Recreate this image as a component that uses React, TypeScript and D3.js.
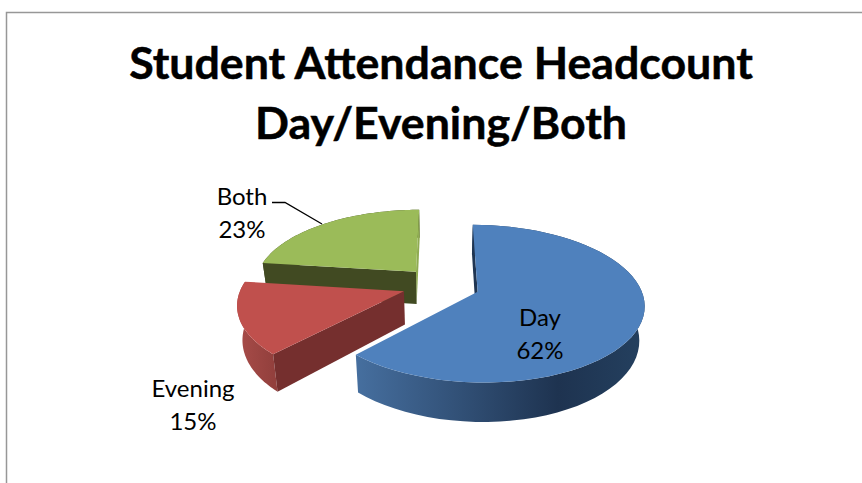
import React from "react";
import * as d3 from "d3";

const W = 862;
const H = 483;
const categories = ["Day", "Evening", "Both"];
const values = [62, 15, 23];
const labels = ["62%", "15%", "23%"];
const titleLines = ["Student Attendance Headcount", "Day/Evening/Both"];
const topColors = ["#4f81bd", "#c0504d", "#9bbb59"];
const startFaceColors = ["#1f3552", "#752f2e", "#414a22"];
const endFaceColors = [null, null, "#8fab52"];
const sideStops = [
  [["0", "#466f9f"], ["0.7", "#1e3350"], ["1", "#24405f"]],
  [["0", "#a84c49"], ["1", "#93403d"]],
  [["0", "#414a22"], ["1", "#414a22"]],
];
const labelPos = [
  { x: 540, y: 326 },
  { x: 193, y: 397 },
  { x: 242, y: 205 },
];

// projection parameters of the tilted pie
const cx = 441, cy = 285, a = 162, b = 75, k = 0.15, depth = 33, explode = 0.24, converge = 0.0008;

const project = (u: number, v: number, drop = 0) => {
  const s = 1 / (1 - k * v);
  return [cx + a * u * s * (1 - drop * converge), cy + b * v * s + drop * s] as [number, number];
};

const arcs = d3.pie<number>().sort(null).value((d) => d)(values);
const line = d3.line();

function sliceGeometry(i: number) {
  const { startAngle: t0, endAngle: t1 } = arcs[i];
  const mid = (t0 + t1) / 2;
  const ox = Math.sin(mid) * explode;
  const oy = -Math.cos(mid) * explode;
  const thetas = d3.range(0, 61).map((j) => d3.interpolateNumber(t0, t1)(j / 60));
  const rim = (drop: number) =>
    thetas.map((t) => project(ox + Math.sin(t), oy - Math.cos(t), drop));
  const apex = (drop: number) => project(ox, oy, drop);
  return { rim, apex };
}

export default function App() {
  return (
    <svg
      width={W}
      height={H}
      style={{ position: "absolute", left: 0, top: 0, display: "block", background: "#fff" }}
      fontFamily="Lato, Carlito, sans-serif"
    >
      <defs>
        {arcs.map((_, i) => {
          const g = sliceGeometry(i);
          const xs = g.rim(0).map((p) => p[0]);
          return (
            <linearGradient
              key={i}
              id={`side${i}`}
              gradientUnits="userSpaceOnUse"
              x1={d3.min(xs)}
              x2={d3.max(xs)}
              y1={0}
              y2={0}
            >
              {sideStops[i].map(([o, c]) => (
                <stop key={o} offset={o} stopColor={c} />
              ))}
            </linearGradient>
          );
        })}
      </defs>
      <path d="M6.5 483V12.5H862" fill="none" stroke="#979797" strokeWidth={1.5} />
      {titleLines.map((t, i) => (
        <text
          key={t}
          x={441}
          y={79 + i * 60}
          textAnchor="middle"
          fontSize={44.7}
          fontWeight={700}
          fill="#000"
          stroke="#000"
          strokeWidth={0.5}
        >
          {t}
        </text>
      ))}
      {[2, 1, 0].map((i) => {
        const g = sliceGeometry(i);
        const top = g.rim(0);
        const bottom = g.rim(depth);
        const outer = [...top, ...bottom.slice().reverse()];
        const faceA = [g.apex(0), top[0], bottom[0], g.apex(depth)];
        const faceB = [g.apex(0), top[top.length - 1], bottom[bottom.length - 1], g.apex(depth)];
        const whole = [g.apex(0), ...top];
        const endColor = endFaceColors[i];
        return (
          <g key={categories[i]}>
            <path d={line(outer)!} fill={`url(#side${i})`} />
            {endColor && <path d={line(faceB)!} fill={endColor} />}
            <path d={line(faceA)!} fill={startFaceColors[i]} />
            <path d={line(whole) + "Z"} fill={topColors[i]} />
          </g>
        );
      })}
      <path d="M272 202.5H285L322 224" fill="none" stroke="#000" strokeWidth={1.3} />
      {categories.map((c, i) => (
        <text key={c} x={labelPos[i].x} textAnchor="middle" fontSize={24} fill="#000">
          <tspan x={labelPos[i].x} y={labelPos[i].y}>{c}</tspan>
          <tspan x={labelPos[i].x} y={labelPos[i].y + 33}>{labels[i]}</tspan>
        </text>
      ))}
    </svg>
  );
}
